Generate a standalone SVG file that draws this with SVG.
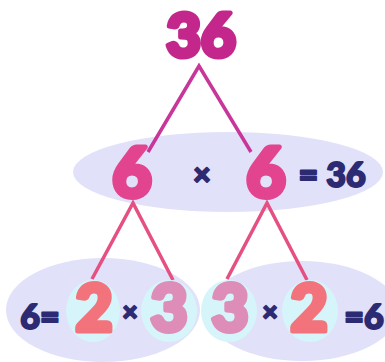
<svg xmlns="http://www.w3.org/2000/svg" width="385" height="362" viewBox="0 0 385 362">
<style>
.d{font-family:Lato,"DejaVu Sans",sans-serif;font-weight:900;text-anchor:middle;stroke-linejoin:round}
.nv{fill:#2B2A72;stroke:#2B2A72;stroke-width:2}
.mag{fill:#C4278B;stroke:#C4278B;stroke-width:5}
.pk{fill:#E2448F;stroke:#E2448F;stroke-width:5}
.cr{fill:#F2737C;stroke:#F2737C;stroke-width:5}
.ro{fill:#DE8DB9;stroke:#DE8DB9;stroke-width:5}
.ell{fill:#E1E1F9}
.cir{fill:#D5F5FA}
.l1{stroke:#C9369A;stroke-width:3.5;fill:none}
.l2{stroke:#E64F82;stroke-width:3.5;fill:none}
</style>
<rect width="385" height="362" fill="#fff"/>
<g id="ellipses">
<ellipse class="ell" cx="228" cy="172" rx="155" ry="40"/>
<ellipse class="ell" cx="103" cy="310" rx="97" ry="52"/>
<ellipse class="ell" cx="302" cy="311" rx="96" ry="50"/>
</g>
<g id="connectors">
<polyline class="l1" points="148,152 199,66 251,152"/>
<polyline class="l2" points="92,279 133,203 173,280"/>
<polyline class="l2" points="227,279 267,203 307,280"/>
</g>
<g id="n36">
<text class="d mag" x="201" y="57" font-size="60">36</text>
</g>
<g id="row2">
<text class="d pk" x="132" y="197" font-size="68">6</text>
<text class="d nv" x="202" y="185" font-size="30">×</text>
<text class="d pk" x="266" y="197" font-size="68">6</text>
<text class="d nv" x="332" y="187" font-size="34">= 36</text>
</g>
<g id="left">
<ellipse class="cir" cx="93" cy="311" rx="27" ry="31"/>
<ellipse class="cir" cx="169" cy="311" rx="28" ry="31"/>
<text class="d nv" x="40" y="329" font-size="34">6=</text>
<text class="d cr" x="94" y="331" font-size="64">2</text>
<text class="d nv" x="130" y="321" font-size="26">×</text>
<text class="d ro" x="169" y="331" font-size="64">3</text>
</g>
<g id="right">
<ellipse class="cir" cx="229" cy="311" rx="28" ry="31"/>
<ellipse class="cir" cx="310" cy="311" rx="28" ry="31"/>
<text class="d ro" x="230" y="331" font-size="64">3</text>
<text class="d nv" x="270" y="321" font-size="26">×</text>
<text class="d cr" x="309" y="331" font-size="64">2</text>
<text class="d nv" x="364" y="329" font-size="34">=6</text>
</g>
</svg>
